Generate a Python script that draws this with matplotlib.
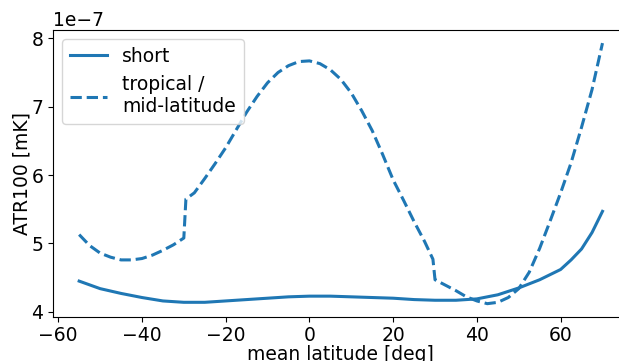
import matplotlib
matplotlib.use("Agg")
import matplotlib.pyplot as plt
import numpy as np

lat_short = [-55, -50, -45, -40, -35, -30, -25, -20, -15, -10, -5, 0, 5, 10,
             15, 20, 25, 30, 35, 40, 45, 50, 55, 60, 62.5, 65, 67.5, 70]
atr_short = [4.45, 4.34, 4.27, 4.21, 4.16, 4.14, 4.14, 4.16, 4.18, 4.20, 4.22,
             4.23, 4.23, 4.22, 4.21, 4.20, 4.18, 4.17, 4.17, 4.19, 4.25, 4.35,
             4.47, 4.62, 4.76, 4.92, 5.16, 5.47]

lat_trop = [-55, -52.5, -50, -47.5, -45, -42.5, -40, -37.5, -35, -32.5, -30,
            -29.5, -27.5, -25, -22.5, -20, -17.5, -15, -12.5, -10, -7.5, -5,
            -2.5, 0, 2.5, 5, 7.5, 10, 12.5, 15, 17.5, 20, 22.5, 25, 27.5, 29.5,
            30, 32.5, 35, 37.5, 40, 42.5, 45, 47.5, 50, 52.5, 55, 57.5, 60,
            62.5, 65, 67.5, 70]
atr_trop = [5.13, 4.97, 4.86, 4.80, 4.76, 4.76, 4.78, 4.83, 4.90, 4.98, 5.08,
            5.65, 5.74, 5.95, 6.17, 6.40, 6.66, 6.92, 7.15, 7.35, 7.50, 7.60,
            7.66, 7.67, 7.63, 7.54, 7.40, 7.20, 6.94, 6.65, 6.30, 5.93, 5.63,
            5.32, 5.03, 4.77, 4.47, 4.39, 4.31, 4.22, 4.16, 4.12, 4.14, 4.21,
            4.34, 4.58, 4.93, 5.33, 5.74, 6.18, 6.70, 7.25, 7.93]

scale = 1e-7
fs = 13.5
fig = plt.figure(figsize=(6.19, 3.61), dpi=100)
ax = fig.add_axes([0.0856, 0.1227, 0.93, 0.794])
ax.plot(lat_short, np.array(atr_short) * scale, color="#1f77b4", lw=2.2,
        label="short")
ax.plot(lat_trop, np.array(atr_trop) * scale, color="#1f77b4", lw=2.2,
        ls="--", label="tropical /\nmid-latitude")
ax.set_xlabel("mean latitude [deg]", fontsize=fs, labelpad=0)
ax.set_ylabel("ATR100 [mK]", fontsize=fs, labelpad=0)
ax.tick_params(labelsize=fs)
ax.yaxis.get_offset_text().set_fontsize(fs)
ax.legend(loc="upper left", fontsize=fs)
fig.savefig("out.png", dpi=100)
